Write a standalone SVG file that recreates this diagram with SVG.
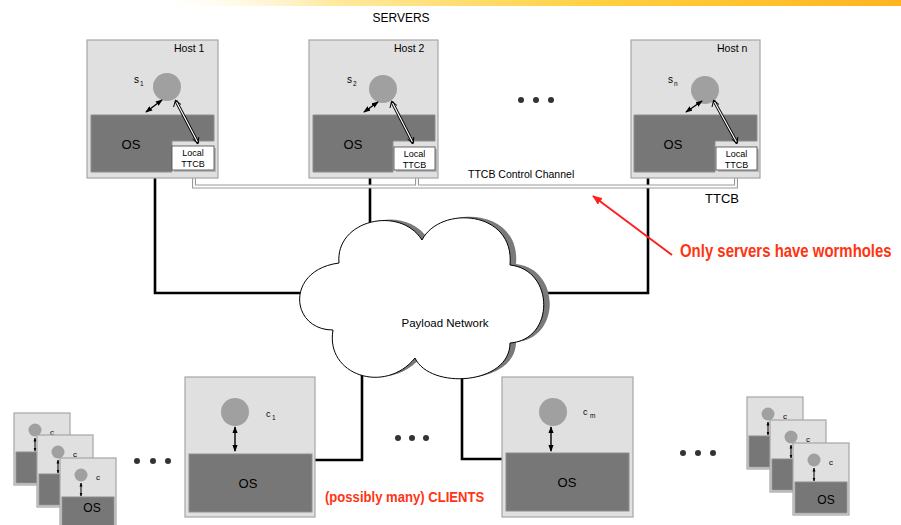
<svg xmlns="http://www.w3.org/2000/svg" width="901" height="525" viewBox="0 0 901 525">
<style>
text{font-family:"Liberation Sans",Arial,sans-serif;fill:#000}
.box{fill:#e0e0e0;stroke:#a6a6a6;stroke-width:1.2}
.os{fill:#777;stroke:#8e8e8e;stroke-width:1}
.proc{fill:#a0a0a0}
.ttcbs{fill:#b5b5b5}
.ttcb{fill:#fff;stroke:#444;stroke-width:0.8}
.dbl{stroke:#000;stroke-width:1.4;fill:none;marker-start:url(#ah);marker-end:url(#ah)}
.holo{stroke:#000;stroke-width:3;fill:none}
.holi{stroke:#fff;stroke-width:1.2;fill:none}
.net{stroke:#000;stroke-width:2.6;fill:none}
.chO{stroke:#9a9a9a;stroke-width:4;fill:none}
.chI{stroke:#fff;stroke-width:1.8;fill:none}
.dot{fill:#333}
.sm{stroke:#000;stroke-width:1;fill:none;marker-start:url(#ahs);marker-end:url(#ahs)}
.red{fill:#ff3412;font-weight:bold}
</style>
<defs>
<marker id="ah" viewBox="0 0 8 6" refX="7" refY="3" markerWidth="5" markerHeight="4" orient="auto-start-reverse" markerUnits="strokeWidth"><path d="M0,0 L8,3 L0,6 Z" fill="#000"/></marker>
<marker id="ahs" viewBox="0 0 8 6" refX="7" refY="3" markerWidth="4" markerHeight="3.5" orient="auto-start-reverse" markerUnits="strokeWidth"><path d="M0,0 L8,3 L0,6 Z" fill="#000"/></marker>
<marker id="rah" viewBox="0 0 10 8" refX="9" refY="4" markerWidth="5" markerHeight="4" orient="auto" markerUnits="strokeWidth"><path d="M0,0 L10,4 L0,8 Z" fill="#ff1f1f"/></marker>
<linearGradient id="hdr" x1="0" y1="0" x2="1" y2="0">
<stop offset="0" stop-color="#fff" stop-opacity="0"/>
<stop offset="0.25" stop-color="#ffeaa0"/>
<stop offset="0.6" stop-color="#ffd040"/>
<stop offset="1" stop-color="#ffb41e"/>
</linearGradient>
<g id="card">
<rect x="0" y="0" width="56" height="72" class="box"/>
<rect x="2" y="39" width="52" height="31" class="os"/>
<circle cx="21" cy="17" r="6.5" class="proc"/>
<line x1="21" y1="25" x2="21" y2="38" class="sm"/>
<text x="36" y="22" font-size="8">c</text>
</g>
</defs>

<rect x="140" y="0" width="761" height="6" fill="url(#hdr)"/>

<text x="401" y="22" font-size="12" text-anchor="middle">SERVERS</text>

<g id="connectors">
<path class="net" d="M155,172 V293 H302"/>
<path class="net" d="M370,172 V226"/>
<path class="net" d="M648,172 V293 H547"/>
<path class="net" d="M362,374 V460 H313"/>
<path class="net" d="M462,376 V459 H506"/>
<path class="chO" d="M194,170 V186.5 H736 V170 M417,170 V186.5"/>
<path class="chI" d="M194,170 V186.5 H736 V170 M417,170 V186.5"/>
<line x1="672" y1="255" x2="593" y2="196" stroke="#ff1f1f" stroke-width="2" marker-end="url(#rah)"/>
</g>

<g id="cloud">
<path transform="translate(6,-1)" fill="#7a7a7a" d="M339,263 C335,220 400,205 422,240 C440,205 515,210 510,265 C555,270 555,340 510,343 C510,385 430,390 415,358 C385,395 325,375 333,330 C290,330 285,270 339,263 Z"/>
<path fill="#fff" stroke="#000" stroke-width="1" d="M339,263 C335,220 400,205 422,240 C440,205 515,210 510,265 C555,270 555,340 510,343 C510,385 430,390 415,358 C385,395 325,375 333,330 C290,330 285,270 339,263 Z"/>
<text x="445" y="327" font-size="11.5" text-anchor="middle">Payload Network</text>
</g>

<g id="host1">
<rect x="87" y="40" width="131" height="138" class="box"/>
<path class="os" d="M91,115 H214 V141 H172 V172 H91 Z"/>
<rect x="174" y="148" width="42" height="24" class="ttcbs"/>
<rect x="172" y="146" width="42" height="24" class="ttcb"/>
<text x="193" y="156" font-size="9" text-anchor="middle">Local</text>
<text x="193" y="167" font-size="9" text-anchor="middle">TTCB</text>
<circle cx="167" cy="87" r="14" class="proc"/>
<line x1="146" y1="112" x2="162" y2="100" class="dbl"/>
<line x1="176" y1="101" x2="198" y2="143" class="holo"/>
<line x1="176.5" y1="102" x2="197.5" y2="142" class="holi"/>
<path d="M173.6,107 L175.5,100 L181,104.5" fill="none" stroke="#000" stroke-width="1"/>
<path d="M192.6,139 L198,144 L198.8,137" fill="none" stroke="#000" stroke-width="1"/>
<text x="174" y="52" font-size="10.5">Host 1</text>
<text x="134" y="83" font-size="10">s</text>
<text x="140" y="86" font-size="6.5">1</text>
<text x="131" y="149" font-size="13" text-anchor="middle">OS</text>
</g>

<g id="host2">
<rect x="309" y="40" width="129" height="138" class="box"/>
<path class="os" d="M313,115 H435 V141 H393 V172 H313 Z"/>
<rect x="396" y="149" width="41" height="23" class="ttcbs"/>
<rect x="394" y="147" width="41" height="23" class="ttcb"/>
<text x="414.5" y="157" font-size="9" text-anchor="middle">Local</text>
<text x="414.5" y="167.5" font-size="9" text-anchor="middle">TTCB</text>
<circle cx="383" cy="89" r="14" class="proc"/>
<line x1="364" y1="112" x2="378" y2="102" class="dbl"/>
<line x1="392" y1="102" x2="413" y2="143" class="holo"/>
<line x1="392.5" y1="103" x2="412.5" y2="142" class="holi"/>
<path d="M390,108 L391.6,101 L397,105.5" fill="none" stroke="#000" stroke-width="1"/>
<path d="M407.6,139 L413,144 L413.8,137" fill="none" stroke="#000" stroke-width="1"/>
<text x="394" y="52" font-size="10.5">Host 2</text>
<text x="347" y="83" font-size="10">s</text>
<text x="353" y="86" font-size="6.5">2</text>
<text x="353" y="149" font-size="13" text-anchor="middle">OS</text>
</g>

<g id="hostn">
<rect x="631" y="40" width="129" height="138" class="box"/>
<path class="os" d="M634,115 H757 V141 H715 V172 H634 Z"/>
<rect x="718" y="149" width="41" height="23" class="ttcbs"/>
<rect x="716" y="147" width="41" height="23" class="ttcb"/>
<text x="736.5" y="157" font-size="9" text-anchor="middle">Local</text>
<text x="736.5" y="167.5" font-size="9" text-anchor="middle">TTCB</text>
<circle cx="705" cy="90" r="14" class="proc"/>
<line x1="686" y1="112" x2="702" y2="101" class="dbl"/>
<line x1="714" y1="101" x2="737" y2="143" class="holo"/>
<line x1="714.5" y1="102" x2="736.5" y2="142" class="holi"/>
<path d="M712,107 L713.6,100 L719,104.5" fill="none" stroke="#000" stroke-width="1"/>
<path d="M731.6,139 L737,144 L737.8,137" fill="none" stroke="#000" stroke-width="1"/>
<text x="717" y="52" font-size="10.5">Host n</text>
<text x="668" y="83" font-size="10">s</text>
<text x="674" y="86" font-size="6.5">n</text>
<text x="673" y="149" font-size="13" text-anchor="middle">OS</text>
</g>

<text x="468" y="178" font-size="10.5">TTCB Control Channel</text>
<text x="705" y="203" font-size="13">TTCB</text>
<text transform="translate(680,257) scale(0.83,1)" x="0" y="0" font-size="18" class="red">Only servers have wormholes</text>

<g id="dots-servers">
<circle cx="521" cy="100" r="3" class="dot"/><circle cx="536" cy="100" r="3" class="dot"/><circle cx="551" cy="100" r="3" class="dot"/>
</g>

<g id="client1">
<rect x="185" y="377" width="130" height="140" class="box"/>
<rect x="189" y="454" width="123" height="58" class="os"/>
<circle cx="235" cy="412" r="14" class="proc"/>
<line x1="235" y1="427" x2="235" y2="451" class="dbl"/>
<text x="266" y="417" font-size="9">c</text>
<text x="272" y="420" font-size="6.5">1</text>
<text x="248" y="488" font-size="13" text-anchor="middle">OS</text>
</g>

<g id="clientm">
<rect x="502" y="377" width="131" height="140" class="box"/>
<rect x="506" y="453" width="123" height="58" class="os"/>
<circle cx="553" cy="412" r="14" class="proc"/>
<line x1="551" y1="427" x2="551" y2="451" class="dbl"/>
<text x="583" y="415" font-size="9">c</text>
<text x="590" y="418" font-size="6.5">m</text>
<text x="567" y="487" font-size="13" text-anchor="middle">OS</text>
</g>

<g id="clients-left">
<use href="#card" x="14" y="413"/>
<use href="#card" x="37" y="435"/>
<use href="#card" x="60" y="458"/>
<text x="92" y="512" font-size="12" text-anchor="middle">OS</text>
</g>

<g id="clients-right">
<use href="#card" x="747" y="397"/>
<use href="#card" x="770" y="420"/>
<use href="#card" x="793" y="443"/>
<text x="826" y="504" font-size="12" text-anchor="middle">OS</text>
</g>

<g id="dots-clients">
<circle cx="137" cy="461" r="3" class="dot"/><circle cx="153" cy="461" r="3" class="dot"/><circle cx="168" cy="461" r="3" class="dot"/>
<circle cx="398" cy="438" r="3" class="dot"/><circle cx="412" cy="438" r="3" class="dot"/><circle cx="426" cy="438" r="3" class="dot"/>
<circle cx="683" cy="453" r="3" class="dot"/><circle cx="698" cy="453" r="3" class="dot"/><circle cx="713" cy="453" r="3" class="dot"/>
</g>

<text transform="translate(325,502) scale(0.935,1)" x="0" y="0" font-size="14" class="red">(possibly many) CLIENTS</text>
</svg>
